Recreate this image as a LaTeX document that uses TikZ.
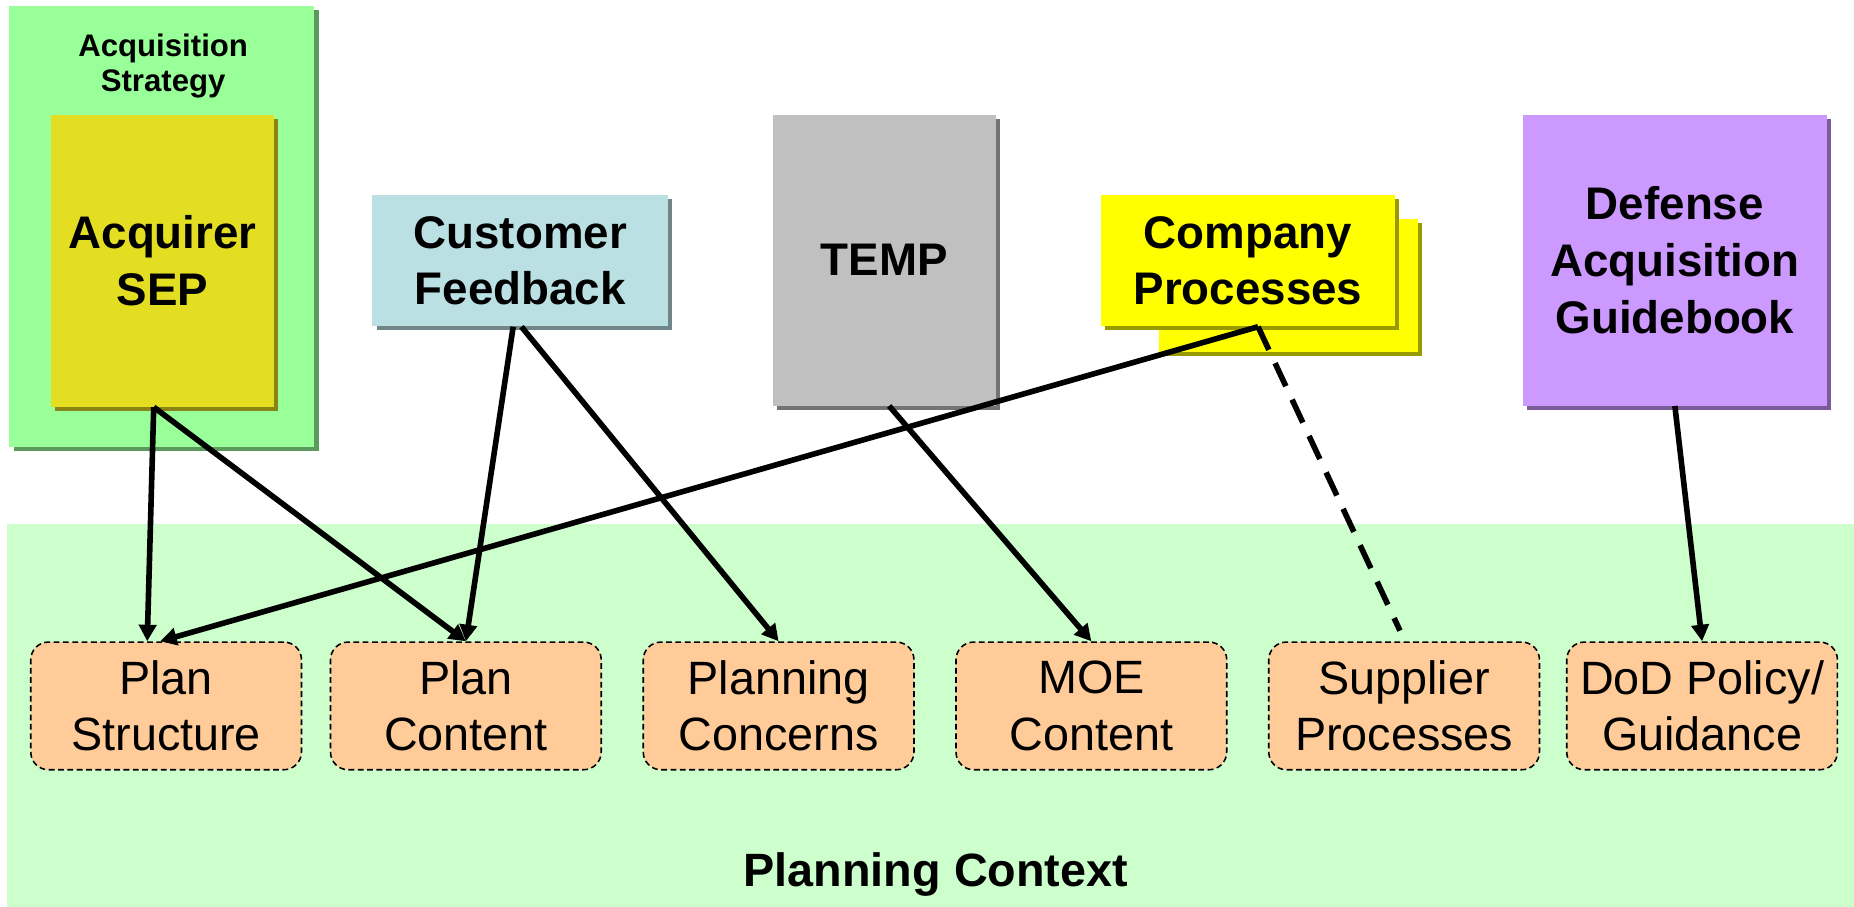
\documentclass[tikz,border=0pt]{standalone}
\usepackage{fontspec}
\setmainfont{Liberation Sans}
\usetikzlibrary{shadows,arrows.meta}

\definecolor{stratgreen}{HTML}{99FF99}
\definecolor{sepyellow}{HTML}{E3DE22}
\definecolor{custblue}{HTML}{BBE0E3}
\definecolor{tempgray}{HTML}{C0C0C0}
\definecolor{compyellow}{HTML}{FFFF00}
\definecolor{dagpurple}{HTML}{CC99FF}
\definecolor{ctxgreen}{HTML}{CCFFCC}
\definecolor{planorange}{HTML}{FFCC99}

\tikzset{
	srcbox/.style={fill=#1, draw=none, inner sep=0pt, align=center,
		general shadow={fill=#1!60!black, shadow xshift=0.07cm, shadow yshift=-0.07cm},
		font=\bfseries\fontsize{22}{27.3}\selectfont},
	planbox/.style={fill=planorange, draw, line width=0.75pt, dash pattern=on 2.8pt off 1.7pt,
		rounded corners=0.3cm, minimum width=4.58cm, minimum height=2.16cm,
		inner sep=0pt, align=center, font=\fontsize{22.5}{27.3}\selectfont},
	link/.style={line width=2.7pt}
}

\begin{document}
\begin{tikzpicture}[x=0.02cm, y=-0.02cm, >={Triangle[length=0.28cm,width=0.29cm]}]
\useasboundingbox (0,0) rectangle (1568,767);
\fill[ctxgreen] (6,443) rectangle (1568,767);
\node[anchor=base, font=\bfseries\fontsize{22.5}{27}\selectfont] (ctxlabel) at (791.5,750) {Planning Context};

% sources
\node[srcbox=stratgreen, minimum width=5.16cm, minimum height=7.46cm] (strat) at (137,191.5) {};
\node[font=\bfseries\fontsize{15}{17}\selectfont, align=center] (stratlabel) at (138,56) {Acquisition\\Strategy};
\node[srcbox=sepyellow, minimum width=3.78cm, minimum height=4.94cm] (sep) at (137.5,220.5) {Acquirer\\SEP};
\node[srcbox=custblue, minimum width=5cm, minimum height=2.22cm] (cust) at (440,220.5) {Customer\\Feedback};
\node[srcbox=tempgray, minimum width=3.76cm, minimum height=4.92cm] (temp) at (748,220) {TEMP};
\node[srcbox=compyellow, minimum width=4.38cm, minimum height=2.26cm] (compback) at (1089.5,241.5) {};
\node[srcbox=compyellow, minimum width=4.98cm, minimum height=2.22cm] (comp) at (1055.5,220.5) {Company\\Processes};
\node[srcbox=dagpurple, minimum width=5.14cm, minimum height=4.92cm] (dag) at (1416.5,220) {Defense\\Acquisition\\Guidebook};

% planning context
\foreach \nm/\cx/\txt in {pstruct/140.5/{Plan\\Structure}, pcont/394/{Plan\\Content},
	pconc/658.5/{Planning\\Concerns}, moe/923/{MOE\\Content},
	supp/1187.5/{Supplier\\Processes}, dod/1439.5/{DoD Policy/\\Guidance}}
{
	\node[planbox] (\nm) at (\cx,597) {\txt};
}

\draw[link, ->] ([xshift=-0.15cm]sep.south) -- ([xshift=-0.32cm]pstruct.north);
\draw[link, ->] ([xshift=-0.15cm]sep.south) -- (pcont.north);
\draw[link, ->] ([xshift=-0.12cm]cust.south) -- (pcont.north);
\draw[link, ->] ([xshift=0.02cm]cust.south) -- (pconc.north);
\draw[link, ->] ([xshift=0.08cm]temp.south) -- (moe.north);
\draw[link, ->] ([xshift=0.17cm]comp.south) -- ([xshift=-0.1cm]pstruct.north);
\draw[link, dash pattern=on 0.43cm off 0.25cm] ([xshift=0.17cm]comp.south) -- ([xshift=-0.07cm, yshift=0.18cm]supp.north);
\draw[link, ->] (dag.south) -- (dod.north);
\end{tikzpicture}
\end{document}
